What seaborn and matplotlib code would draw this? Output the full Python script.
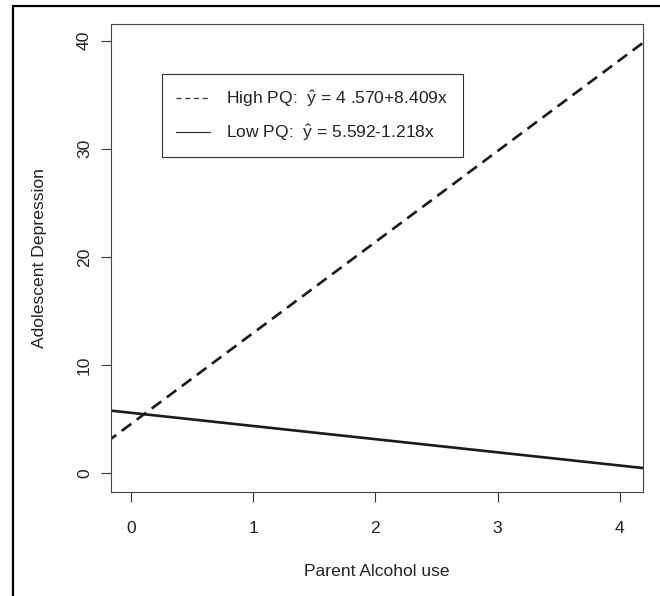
import numpy as np
import pandas as pd
import matplotlib
matplotlib.use("Agg")
import matplotlib.pyplot as plt
from matplotlib.lines import Line2D
from matplotlib.patches import Rectangle
import seaborn as sns

# ---- data ----
groups = ["High PQ", "Low PQ"]
intercepts = [4.570, 5.592]
slopes = [8.409, -1.218]
legend_labels = ["High PQ:  $\\hat{\\mathrm{y}}$ = 4 .570+8.409x",
                 "Low PQ:  $\\hat{\\mathrm{y}}$ = 5.592-1.218x"]
x_span = [-0.2, 4.3]
x_ticks = [0, 1, 2, 3, 4]
y_ticks = [0, 10, 20, 30, 40]
x_label = "Parent Alcohol use"
y_label = "Adolescent Depression"

sns.set_style("white")
plt.rcParams['font.family'] = ['Liberation Sans', 'DejaVu Sans']
plt.rcParams['mathtext.fontset'] = 'custom'
plt.rcParams['mathtext.rm'] = 'Liberation Sans'
plt.rcParams['mathtext.it'] = 'Liberation Sans:italic'

FS = 12.6

rows = []
for g, a, b in zip(groups, intercepts, slopes):
    for xv in x_span:
        rows.append({"x": xv, "y": a + b * xv, "group": g})
df = pd.DataFrame(rows)

fig = plt.figure(figsize=(6.6, 5.96), dpi=100)
ax = fig.add_axes([110.7/660, 1-491.7/596, (643-110.7)/660, (491.7-24)/596])

sns.lineplot(data=df, x="x", y="y", style="group", style_order=groups,
             dashes={"High PQ": (4.5, 2.6), "Low PQ": ""},
             color="#1a1a1a", linewidth=1.9, ax=ax, legend=False)

ax.set_xlim(-0.167, 4.19)
ax.set_ylim(-1.70, 41.54)
ax.set_xticks(x_ticks)
ax.set_yticks(y_ticks)
ax.set_xticklabels([str(t) for t in x_ticks], fontsize=FS, color="#222")
ax.set_yticklabels([str(t) for t in y_ticks], fontsize=FS, color="#222",
                   rotation=90, va="center")
ax.tick_params(axis="both", direction="out", length=7.2, width=0.8,
               color="#333", left=True, bottom=True)
ax.tick_params(axis="x", pad=14.2)
ax.tick_params(axis="y", pad=6.2)
ax.set_xlabel(x_label, fontsize=FS, color="#222", labelpad=20)
ax.set_ylabel(y_label, fontsize=FS, color="#222", labelpad=21.5)
for s in ax.spines.values():
    s.set_visible(True)
    s.set_color("#444")
    s.set_linewidth(0.8)

handles = [Line2D([0], [0], color="#333", lw=0.9, dashes=(4, 3)),
           Line2D([0], [0], color="#333", lw=0.9)]
leg = ax.legend(handles, legend_labels, loc="upper left",
                bbox_to_anchor=(162/660, 1-74/596), bbox_transform=fig.transFigure,
                borderaxespad=0, fontsize=FS, handlelength=1.9, handletextpad=0.95,
                labelspacing=0.75, borderpad=0.82, fancybox=False, framealpha=1,
                edgecolor="#333")
leg.get_frame().set_linewidth(0.8)
for t in leg.get_texts():
    t.set_color("#222")

fig.patches.append(Rectangle((13/660, -0.1), 1.2, 1.1 - 6/596,
                             transform=fig.transFigure, fill=False,
                             edgecolor="black", linewidth=1.6, zorder=10))

fig.savefig("out.png", dpi=100)
